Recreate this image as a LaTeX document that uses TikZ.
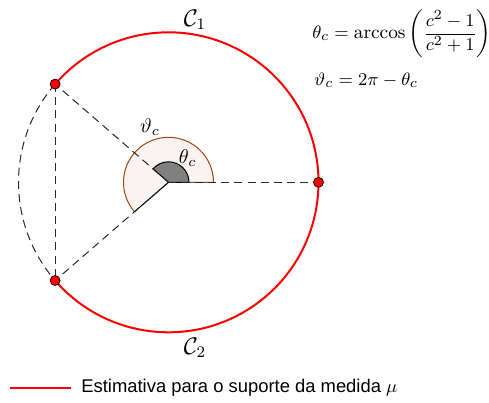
\documentclass[tikz,border=0pt]{standalone}
\usepackage{fontspec}
\newfontfamily\legendfont{Liberation Sans}
\definecolor{supred}{RGB}{255,0,0}
\definecolor{sectbrown}{RGB}{160,70,20}
\definecolor{sectfill}{RGB}{250,243,241}
\definecolor{smallgray}{RGB}{128,128,128}
\definecolor{dashgray}{RGB}{40,40,40}
\begin{document}
\begin{tikzpicture}[x=0.5pt,y=0.5pt,
  supline/.style={supred,line width=1pt},
  dline/.style={dashgray,line width=0.5pt,dash pattern=on 4pt off 2.6pt},
  pt/.style={circle,fill=supred,draw=black,line width=0.35pt,inner sep=0pt,minimum size=5pt},
  lbl/.style={inner sep=0pt},
  eqn/.style={inner sep=0pt,anchor=west,font=\fontsize{9.4}{11}\selectfont}]
\useasboundingbox (0,0) rectangle (489,403);
\coordinate (O) at (168.5,220.7);
\coordinate (A) at ([shift={(139.1:150)}]O);
\coordinate (B) at ([shift={(-139.1:150)}]O);
\coordinate (R) at ([shift={(0:150)}]O);
% big sector (vartheta_c)
\fill[sectfill] (O) -- ([shift={(0:45)}]O) arc[start angle=0,end angle=220.9,radius=45] -- cycle;
\draw[sectbrown,line width=0.5pt] (O) -- ([shift={(0:45)}]O) arc[start angle=0,end angle=220.9,radius=45];
\draw[black,line width=0.5pt] (O) -- ([shift={(220.9:45)}]O);
% small sector (theta_c)
\draw[black,fill=smallgray,line width=0.5pt] (O) -- ([shift={(0:20.5)}]O) arc[start angle=0,end angle=139.1,radius=20.5] -- cycle;
% dashed construction lines
\draw[dline] (O) -- (A);
\draw[dline] (O) -- (B);
\draw[dline] (O) -- (R);
\draw[dline] (A) -- (B);
\draw[dline] (A) arc[start angle=139.1,end angle=220.9,radius=150];
% red support arc
\draw[supline] (B) arc[start angle=-139.1,end angle=139.1,radius=150];
% points
\node[pt] (pA) at (A) {};
\node[pt] (pB) at (B) {};
\node[pt] (pR) at (R) {};
% labels
\node[lbl] (vt) at (150,276.3) {$\vartheta_c$};
\node[lbl] (th) at (187.7,245.3) {$\theta_c$};
\node[lbl,font=\large] (C1) at (195,383) {$\mathcal{C}_1$};
\node[lbl,font=\large] (C2) at (195,55) {$\mathcal{C}_2$};
\node[eqn] (f1) at (312,369) {$\theta_c = \arccos\left(\displaystyle\frac{c^2-1}{c^2+1}\right)$};
\node[eqn] (f2) at (314,323) {$\vartheta_c = 2\pi - \theta_c$};
% legend
\coordinate (L1) at (10,15.3);
\coordinate (L2) at (71,15.3);
\draw[supline] (L1) -- (L2);
\node[lbl,anchor=west,font=\legendfont\fontsize{9.2}{11}\selectfont] (lg) at (81,15) {Estimativa para o suporte da medida $\mu$};
\end{tikzpicture}
\end{document}
